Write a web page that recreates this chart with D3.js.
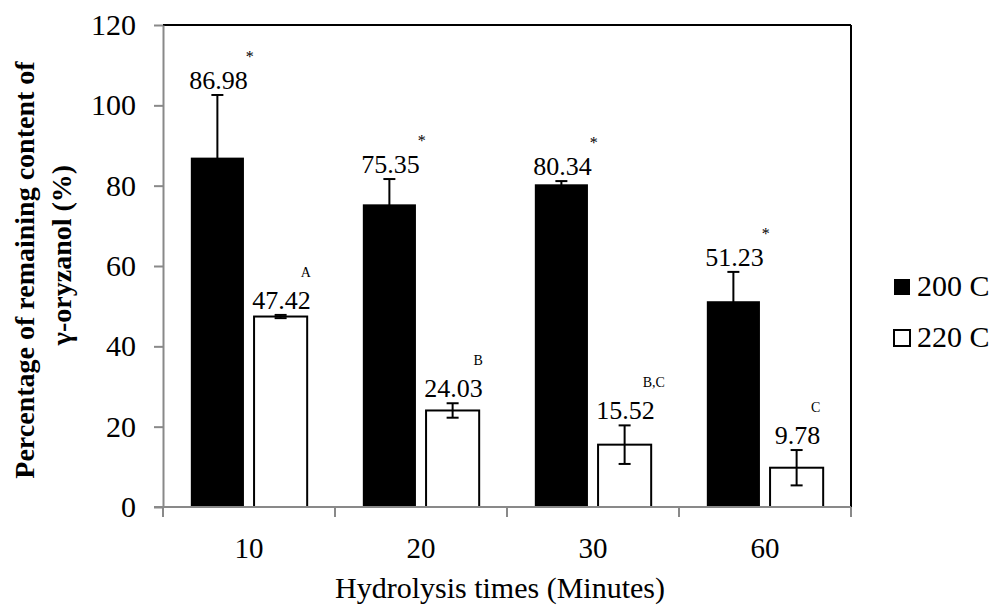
<!DOCTYPE html>
<html>
<head>
<meta charset="utf-8">
<script src="https://cdn.jsdelivr.net/npm/d3@7/dist/d3.min.js"></script>
<style>
  body { margin: 0; background: #fff; }
  svg text { font-family: "Liberation Serif", "Times New Roman", serif; fill: #000; }
</style>
</head>
<body>
<div id="chart"></div>
<script>
// hydrolysis times (minutes)
var categories = ['10', '20', '30', '60'];
var series = ['200 C', '220 C'];

// remaining gamma-oryzanol (%)
var values200 = [86.98, 75.35, 80.34, 51.23];
var values220 = [47.42, 24.03, 15.52, 9.78];

// error bars
var err200 = [15.6, 6.3, 0.8, 7.3];
var err220 = [0.4, 1.8, 4.8, 4.4];

// significance marks
var marks200 = ['*', '*', '*', '*'];
var marks220 = ['A', 'B', 'B,C', 'C'];

var yTicks = [0, 20, 40, 60, 80, 100, 120];

var width = 996, height = 605;
var margin = {top: 25, right: 145, bottom: 98, left: 163};

var svg = d3.select('#chart').append('svg')
  .attr('width', width)
  .attr('height', height);

var x0 = d3.scaleBand()
  .domain(categories)
  .range([margin.left, width - margin.right]);

var x1 = d3.scaleBand()
  .domain(series)
  .range([0, x0.bandwidth()])
  .paddingInner(0.16)
  .paddingOuter(0.44);

var y = d3.scaleLinear()
  .domain([0, 120])
  .range([height - margin.bottom, margin.top]);

var gray = '#898989';
var x0Left = x0.range()[0], x0Right = x0.range()[1];

// build one row per bar
var rows = [];
categories.forEach(function(c, i) {
  rows.push({cat: c, s: series[0], v: values200[i], e: err200[i], mark: marks200[i]});
  rows.push({cat: c, s: series[1], v: values220[i], e: err220[i], mark: marks220[i]});
});

// top and right frame lines
svg.append('line')
  .attr('x1', x0Left).attr('x2', x0Right)
  .attr('y1', y(120)).attr('y2', y(120))
  .attr('stroke', '#000').attr('stroke-width', 2);
svg.append('line')
  .attr('x1', x0Right).attr('x2', x0Right)
  .attr('y1', y(120)).attr('y2', y(0))
  .attr('stroke', '#000').attr('stroke-width', 2);

// y axis
var yAxis = svg.append('g')
  .attr('transform', 'translate(' + x0Left + ',0)')
  .call(d3.axisLeft(y).tickValues(yTicks).tickSize(9).tickPadding(18).tickSizeOuter(0));
yAxis.attr('font-family', null);
yAxis.select('.domain').attr('stroke', gray).attr('stroke-width', 2);
yAxis.selectAll('.tick line').attr('stroke', gray).attr('stroke-width', 2);
yAxis.selectAll('.tick text')
  .style('font-size', '30px')
  .attr('fill', '#000');

// bars
svg.selectAll('rect.bar').data(rows)
  .enter().append('rect')
  .attr('class', 'bar')
  .attr('x', function(d) { return x0(d.cat) + x1(d.s); })
  .attr('y', function(d) { return y(d.v); })
  .attr('width', x1.bandwidth())
  .attr('height', function(d) { return y(0) - y(d.v); })
  .attr('fill', function(d) { return d.s === series[0] ? '#000' : '#fff'; })
  .attr('stroke', '#000')
  .attr('stroke-width', function(d) { return d.s === series[0] ? 0 : 2; });

// x axis (drawn after bars so it sits on top)
svg.append('line')
  .attr('x1', x0Left - 9).attr('x2', x0Right)
  .attr('y1', y(0)).attr('y2', y(0))
  .attr('stroke', gray).attr('stroke-width', 2);
var bounds = categories.map(function(c) { return x0(c); }).concat([x0Right]);
svg.selectAll('line.xtick').data(bounds)
  .enter().append('line')
  .attr('class', 'xtick')
  .attr('x1', function(d) { return d; }).attr('x2', function(d) { return d; })
  .attr('y1', y(0)).attr('y2', y(0) + 10)
  .attr('stroke', gray).attr('stroke-width', 2);
svg.selectAll('text.xlab').data(categories)
  .enter().append('text')
  .attr('class', 'xlab')
  .attr('x', function(d) { return x0(d) + x0.bandwidth() / 2; })
  .attr('y', y(0) + 51)
  .attr('text-anchor', 'middle')
  .style('font-size', '29px')
  .text(function(d) { return d; });

// error bars
var cap = 6;
var eb = svg.selectAll('g.err').data(rows)
  .enter().append('g')
  .attr('class', 'err')
  .attr('stroke', '#000')
  .attr('stroke-width', 2);
eb.append('line')
  .attr('x1', function(d) { return x0(d.cat) + x1(d.s) + x1.bandwidth() / 2; })
  .attr('x2', function(d) { return x0(d.cat) + x1(d.s) + x1.bandwidth() / 2; })
  .attr('y1', function(d) { return y(d.v + d.e); })
  .attr('y2', function(d) { return y(d.v - d.e); });
[1, -1].forEach(function(sign) {
  eb.append('line')
    .attr('x1', function(d) { return x0(d.cat) + x1(d.s) + x1.bandwidth() / 2 - cap; })
    .attr('x2', function(d) { return x0(d.cat) + x1(d.s) + x1.bandwidth() / 2 + cap; })
    .attr('y1', function(d) { return y(d.v + sign * d.e); })
    .attr('y2', function(d) { return y(d.v + sign * d.e); });
});

// value labels with their marks
var labelGap = 6;
var labels = svg.selectAll('text.val').data(rows)
  .enter().append('text')
  .attr('class', 'val')
  .attr('x', function(d) { return x0(d.cat) + x1(d.s) + x1.bandwidth() / 2 + 1; })
  .attr('y', function(d) { return y(d.v + d.e) - labelGap; })
  .attr('text-anchor', 'middle')
  .style('font-size', '26px')
  .text(function(d) { return d3.format('.2f')(d.v); });

labels.each(function(d) {
  var bb = this.getBBox();
  var isStar = d.mark === '*';
  svg.append('text')
    .attr('x', isStar ? bb.x + bb.width + 2 : bb.x + bb.width + (d.mark.length > 1 ? 10 : 0))
    .attr('y', y(d.v + d.e) - labelGap - (isStar ? 27 : 32))
    .attr('text-anchor', isStar ? 'middle' : 'end')
    .style('font-size', isStar ? '16px' : '14px')
    .text(d.mark);
});

// axis titles
svg.append('text')
  .attr('x', 500)
  .attr('y', 598)
  .attr('text-anchor', 'middle')
  .style('font-size', '30px')
  .text('Hydrolysis times (Minutes)');

var yTitle = svg.append('g')
  .style('font-size', '28px')
  .style('font-weight', 'bold');
yTitle.append('text')
  .attr('transform', 'translate(34,270) rotate(-90)')
  .attr('text-anchor', 'middle')
  .text('Percentage of remaining content of');
yTitle.append('text')
  .attr('transform', 'translate(71,255) rotate(-90)')
  .attr('text-anchor', 'middle')
  .text('γ-oryzanol (%)');

// legend
var legend = svg.selectAll('g.legend').data(series)
  .enter().append('g')
  .attr('class', 'legend')
  .attr('transform', function(d, i) { return 'translate(893,' + (279 + i * 51) + ')'; });
legend.append('rect')
  .attr('x', 1).attr('y', 0)
  .attr('width', 16).attr('height', 16)
  .attr('fill', function(d, i) { return i === 0 ? '#000' : '#fff'; })
  .attr('stroke', '#000')
  .attr('stroke-width', function(d, i) { return i === 0 ? 0 : 2; });
legend.append('text')
  .attr('x', 24)
  .attr('y', 17)
  .style('font-size', '30px')
  .text(function(d) { return d; });
</script>
</body>
</html>
